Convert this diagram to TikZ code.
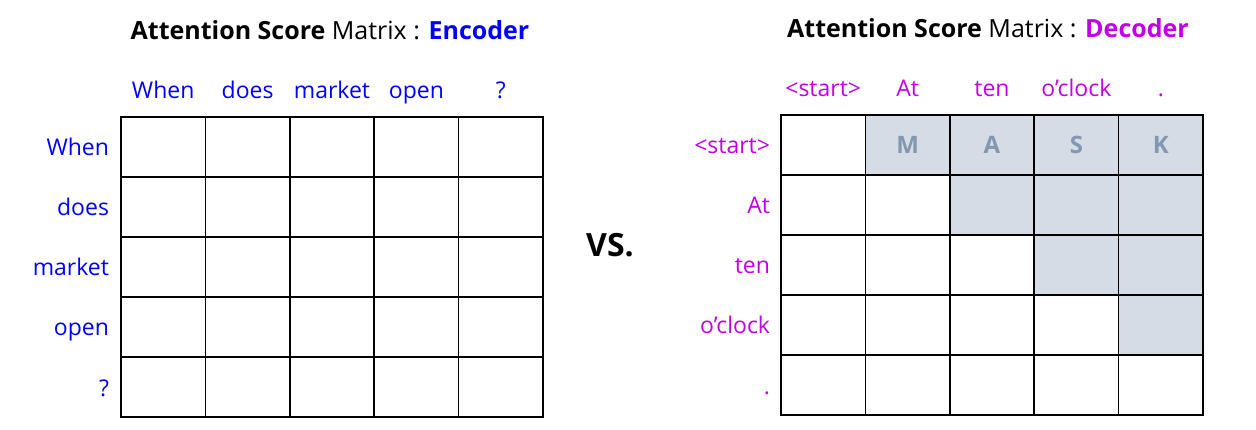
\documentclass[tikz,border=0pt]{standalone}
\usepackage{fontspec}
\setmainfont{Open Sans}
\usetikzlibrary{positioning}
\definecolor{encblue}{RGB}{0,0,255}
\definecolor{decpurple}{RGB}{192,0,230}
\definecolor{maskfill}{RGB}{214,220,229}
\definecolor{maskletter}{RGB}{132,151,176}

\begin{document}
\begin{tikzpicture}
	[x=1pt,y=-1pt,
	 every node/.style={inner sep=0pt,font=\fontsize{23}{27}\selectfont},
	 cell/.style={draw=black,line width=1.6pt,minimum width=84.4pt,minimum height=60pt},
	 masked/.style={cell,fill=maskfill},
	 enclabel/.style={text=encblue},
	 declabel/.style={text=decpurple}]
	\useasboundingbox (0,0) rectangle (1256,430);

	% titles
	\node[font=\fontsize{25}{30}\selectfont] (enctitle) at (330,30) {\textbf{Attention Score} Matrix : \textcolor{encblue}{\textbf{Encoder}}};
	\node[font=\fontsize{25}{30}\selectfont] (dectitle) at (988,28) {\textbf{Attention Score} Matrix : \textcolor{decpurple}{\textbf{Decoder}}};
	\node[anchor=base,font=\fontsize{32}{36}\selectfont\bfseries] (vs) at (610,257) {VS.};

	% encoder grid
	\foreach \r in {1,...,5}
	\foreach \c in {1,...,5}
	\node[cell] (e-\r-\c) at ({121+84.4*(\c-0.5)},{117+60*(\r-0.5)}) {};

	\foreach \w [count=\i] in {When,does,market,open,?}
	{
	\node[enclabel,anchor=base] (ecol-\i) at ([yshift=18pt]e-1-\i.north) {\w};
	\node[enclabel,anchor=base east] (erow-\i) at ([xshift=-11pt,yshift=-9pt]e-\i-1.west) {\w};
	}

	% decoder grid (upper part masked)
	\foreach \r in {1,...,5}
	\foreach \c in {1,...,5}
	{
	\ifnum\c>\r
	\node[masked] (d-\r-\c) at ({781+84.4*(\c-0.5)},{115+60*(\r-0.5)}) {};
	\else
	\node[cell] (d-\r-\c) at ({781+84.4*(\c-0.5)},{115+60*(\r-0.5)}) {};
	\fi
	}

	\foreach \l [count=\i from 2] in {M,A,S,K}
	\node[text=maskletter,font=\fontsize{24}{28}\selectfont\bfseries] (mask-\i) at (d-1-\i) {\l};

	\foreach \w [count=\i] in {<start>,At,ten,o’clock,.}
	{
	\node[declabel,anchor=base] (dcol-\i) at ([yshift=18pt]d-1-\i.north) {\w};
	\node[declabel,anchor=base east] (drow-\i) at ([xshift=-10pt,yshift=-9pt]d-\i-1.west) {\w};
	}
\end{tikzpicture}
\end{document}
